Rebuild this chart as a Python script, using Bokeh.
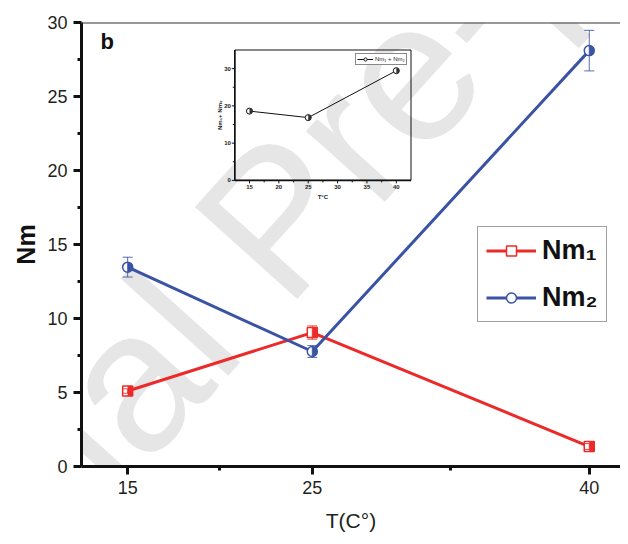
import math
from bokeh.plotting import figure
from bokeh.models import (FixedTicker, Range1d, Legend, LegendItem, Label, Span,
                          Whisker, TeeHead, ColumnDataSource)
from bokeh.core.properties import value
from bokeh.embed import file_html
from bokeh.resources import INLINE

# ---------------- data ----------------
temps = [15, 25, 40]
nm1 = [5.1, 9.05, 1.35]
nm1_err = [0.15, 0.45, 0.2]
nm2 = [13.47, 7.77, 28.1]
nm2_err = [0.67, 0.4, 1.37]

inset_temps = [15, 25, 40]
inset_sum = [18.6, 16.85, 29.45]

x_ticks = [15, 25, 40]
x_minor = [20, 32.5]
y_ticks = [0, 5, 10, 15, 20, 25, 30]
y_minor = [2.5, 7.5, 12.5, 17.5, 22.5, 27.5]

inset_x_ticks = [15, 20, 25, 30, 35, 40]
inset_x_minor = [17.5, 22.5, 27.5, 32.5, 37.5]
inset_y_ticks = [0, 10, 20, 30]
inset_y_minor = [5, 15, 25]

# ---------------- layout / style ----------------
RED = "#EC2A2A"
BLUE = "#3A53A4"
FONT = "Liberation Sans"
FIG_W, FIG_H = 620, 536
B_LEFT, B_TOP, B_BOTTOM, B_RIGHT = 81, 22, 70, 0
FRAME_W = FIG_W - B_LEFT - B_RIGHT
FRAME_H = FIG_H - B_TOP - B_BOTTOM
PX_PER_UNIT = 18.464
X_RANGE = (12.5, 12.5 + FRAME_W / PX_PER_UNIT)
Y_RANGE = (0, 30)
PPU_X = FRAME_W / (X_RANGE[1] - X_RANGE[0])

# inset box, pixels relative to the frame (left/right from frame left, top/bottom from frame top)
IN_L, IN_R, IN_T, IN_B = 153.3, 329.5, 27.5, 157.9
INSET_X = (12.5, 42.5)
INSET_Y = (0, 35)
IPPU_X = (IN_R - IN_L) / (INSET_X[1] - INSET_X[0])
IPPU_Y = (IN_B - IN_T) / (INSET_Y[1] - INSET_Y[0])
ix_range = Range1d(INSET_X[0] - IN_L / IPPU_X, INSET_X[1] + (FRAME_W - IN_R) / IPPU_X)
iy_range = Range1d(INSET_Y[0] - (FRAME_H - IN_B) / IPPU_Y, INSET_Y[1] + IN_T / IPPU_Y)

p = figure(width=FIG_W, height=FIG_H, output_backend="svg", toolbar_location=None,
           x_range=Range1d(*X_RANGE), y_range=Range1d(*Y_RANGE),
           min_border_left=B_LEFT, min_border_right=B_RIGHT,
           min_border_top=B_TOP, min_border_bottom=B_BOTTOM)
p.extra_x_ranges = {"ix": ix_range}
p.extra_y_ranges = {"iy": iy_range}
p.outline_line_color = None
p.grid.visible = False
p.background_fill_color = None

# watermark
wm = Label(x=-323, y=-327, x_units="screen", y_units="screen", text="Journal Pre-proof",
           angle=math.radians(48), text_font=FONT, text_font_size="200px",
           text_baseline="alphabetic", text_align="left",
           text_color="#e6e6e6", level="underlay")
p.add_layout(wm)

# axes
for ax in (p.xaxis[0], p.yaxis[0]):
    ax.axis_line_width = 3
    ax.axis_line_color = "#111111"
    ax.major_tick_line_width = 3
    ax.major_tick_line_color = "#111111"
    ax.minor_tick_line_width = 3
    ax.minor_tick_line_color = "#111111"
    ax.major_tick_in = 0
    ax.major_tick_out = 8
    ax.minor_tick_in = 0
    ax.minor_tick_out = 4
    ax.major_label_text_font = FONT
    ax.major_label_text_font_size = "18px"
    ax.major_label_text_color = "#231f20"
    ax.major_label_standoff = 6

p.xaxis.ticker = FixedTicker(ticks=x_ticks, minor_ticks=x_minor)
p.yaxis.ticker = FixedTicker(ticks=y_ticks, minor_ticks=y_minor)
p.xaxis.axis_label = "T(C°)"
p.xaxis.axis_label_text_font = FONT
p.xaxis.axis_label_text_font_size = "21px"
p.xaxis.axis_label_text_font_style = "normal"
p.xaxis.axis_label_text_color = "#231f20"
p.xaxis.axis_label_standoff = 12
p.yaxis.axis_label = "Nm"
p.yaxis.axis_label_text_font = FONT
p.yaxis.axis_label_text_font_size = "25px"
p.yaxis.axis_label_text_font_style = "bold"
p.yaxis.axis_label_text_color = "#111111"
p.yaxis.axis_label_standoff = 4

p.add_layout(Span(location=Y_RANGE[1], dimension="width", line_color="#333333", line_width=2))

# ---------------- main series ----------------
dx = 2.5 / PPU_X
src1 = ColumnDataSource(dict(x=temps, y=nm1,
                             up=[v + e for v, e in zip(nm1, nm1_err)],
                             lo=[v - e for v, e in zip(nm1, nm1_err)],
                             xh=[t + dx for t in temps]))
src2 = ColumnDataSource(dict(x=temps, y=nm2,
                             up=[v + e for v, e in zip(nm2, nm2_err)],
                             lo=[v - e for v, e in zip(nm2, nm2_err)]))

red_line = p.line("x", "y", source=src1, line_color=RED, line_width=3)
blue_line = p.line("x", "y", source=src2, line_color=BLUE, line_width=3)

red_sq = p.scatter("x", "y", source=src1, marker="square", size=10, fill_color="white",
                   line_color=RED, line_width=1.5)
p.rect("xh", "y", source=src1, width=5, height=10, width_units="screen",
       height_units="screen", fill_color=RED, line_color=None)

blue_c = p.scatter("x", "y", source=src2, marker="circle", size=10, fill_color="white",
                   line_color=BLUE, line_width=1.5)
p.wedge("x", "y", source=src2, radius=5, radius_units="screen", start_angle=-math.pi / 2,
        end_angle=math.pi / 2, fill_color=BLUE, line_color=None)

for src, col in ((src1, RED), (src2, BLUE)):
    w = Whisker(source=src, base="x", upper="up", lower="lo", line_color=col,
                line_width=1, line_alpha=0.85, level="annotation",
                upper_head=TeeHead(size=10, line_color=col, line_width=1, line_alpha=0.85),
                lower_head=TeeHead(size=10, line_color=col, line_width=1, line_alpha=0.85))
    p.add_layout(w)

legend = Legend(items=[LegendItem(label="Nm₁", renderers=[red_line, red_sq]),
                       LegendItem(label="Nm₂", renderers=[blue_line, blue_c])],
                location=(396, 144), orientation="vertical", padding=8, spacing=16,
                glyph_width=50, glyph_height=25, label_height=25, label_width=53,
                label_standoff=6, label_text_font=FONT, label_text_font_style="bold",
                label_text_font_size="27px", label_text_color="#111111",
                border_line_color="#444444", border_line_width=1.5,
                background_fill_color="white", background_fill_alpha=1, margin=0)
p.add_layout(legend)

p.add_layout(Label(x=19, y=413, x_units="screen", y_units="screen", text="b",
                   text_font=FONT, text_font_style="bold", text_font_size="22px",
                   text_color="#111111"))

# ---------------- inset ----------------
R = dict(x_range_name="ix", y_range_name="iy")
p.quad(left=[INSET_X[0]], right=[INSET_X[1]], bottom=[INSET_Y[0]], top=[INSET_Y[1]],
       fill_alpha=0, line_color="#111111", line_width=1, **R)
p.segment(x0=[INSET_X[0], INSET_X[0]], y0=[INSET_Y[0], INSET_Y[0]],
          x1=[INSET_X[0], INSET_X[1]], y1=[INSET_Y[1], INSET_Y[0]],
          line_color="#111111", line_width=1.6, **R)

tk_x = 3 / IPPU_Y
tk_xm = 2 / IPPU_Y
p.segment(x0=inset_x_ticks, x1=inset_x_ticks, y0=[INSET_Y[0]] * len(inset_x_ticks),
          y1=[INSET_Y[0] - tk_x] * len(inset_x_ticks), line_color="#111111", line_width=1, **R)
p.segment(x0=inset_x_minor, x1=inset_x_minor, y0=[INSET_Y[0]] * len(inset_x_minor),
          y1=[INSET_Y[0] - tk_xm] * len(inset_x_minor), line_color="#111111", line_width=1, **R)
tk_y = 3 / IPPU_X
tk_ym = 2 / IPPU_X
p.segment(y0=inset_y_ticks, y1=inset_y_ticks, x0=[INSET_X[0]] * len(inset_y_ticks),
          x1=[INSET_X[0] - tk_y] * len(inset_y_ticks), line_color="#111111", line_width=1, **R)
p.segment(y0=inset_y_minor, y1=inset_y_minor, x0=[INSET_X[0]] * len(inset_y_minor),
          x1=[INSET_X[0] - tk_ym] * len(inset_y_minor), line_color="#111111", line_width=1, **R)

p.text(x=inset_x_ticks, y=[INSET_Y[0]] * len(inset_x_ticks), text=[str(t) for t in inset_x_ticks],
       y_offset=5, text_align="center", text_baseline="top", text_font=value(FONT),
       text_font_style="bold", text_font_size="6px", text_color="#222222", **R)
p.text(x=[INSET_X[0]] * len(inset_y_ticks), y=inset_y_ticks, text=[str(t) for t in inset_y_ticks],
       x_offset=-4, text_align="right", text_baseline="middle", text_font=value(FONT),
       text_font_style="bold", text_font_size="6px", text_color="#222222", **R)
p.text(x=[(INSET_X[0] + INSET_X[1]) / 2], y=[INSET_Y[0]], text=["T°C"], y_offset=17,
       text_align="center", text_baseline="middle", text_font=value(FONT),
       text_font_style="bold", text_font_size="6px", text_color="#222222", **R)
p.text(x=[INSET_X[0]], y=[(INSET_Y[0] + INSET_Y[1]) / 2], text=["Nm₁+ Nm₂"], x_offset=-15,
       angle=math.pi / 2, text_align="center", text_baseline="middle", text_font=value(FONT),
       text_font_style="bold", text_font_size="6px", text_color="#222222", **R)

isrc = ColumnDataSource(dict(x=inset_temps, y=inset_sum))
i_line = p.line("x", "y", source=isrc, line_color="#111111", line_width=1, **R)
i_sc = p.scatter("x", "y", source=isrc, marker="circle", size=6, fill_color="white",
                 line_color="#111111", line_width=1, **R)
p.wedge("x", "y", source=isrc, radius=3, radius_units="screen", start_angle=-math.pi / 2,
        end_angle=math.pi / 2, fill_color="#333333", line_color=None, **R)

ilegend = Legend(items=[LegendItem(label="Nm₁ + Nm₂", renderers=[i_line, i_sc])],
                 location=(274, 401.5), padding=1, spacing=0, glyph_width=16, glyph_height=8,
                 label_height=8, label_standoff=2, label_text_font=FONT,
                 label_text_font_size="6px", label_text_color="#222222",
                 border_line_color="#111111", border_line_width=1,
                 background_fill_color="white", background_fill_alpha=1, margin=0)
p.add_layout(ilegend)

open("out.html", "w").write(file_html(p, INLINE))
